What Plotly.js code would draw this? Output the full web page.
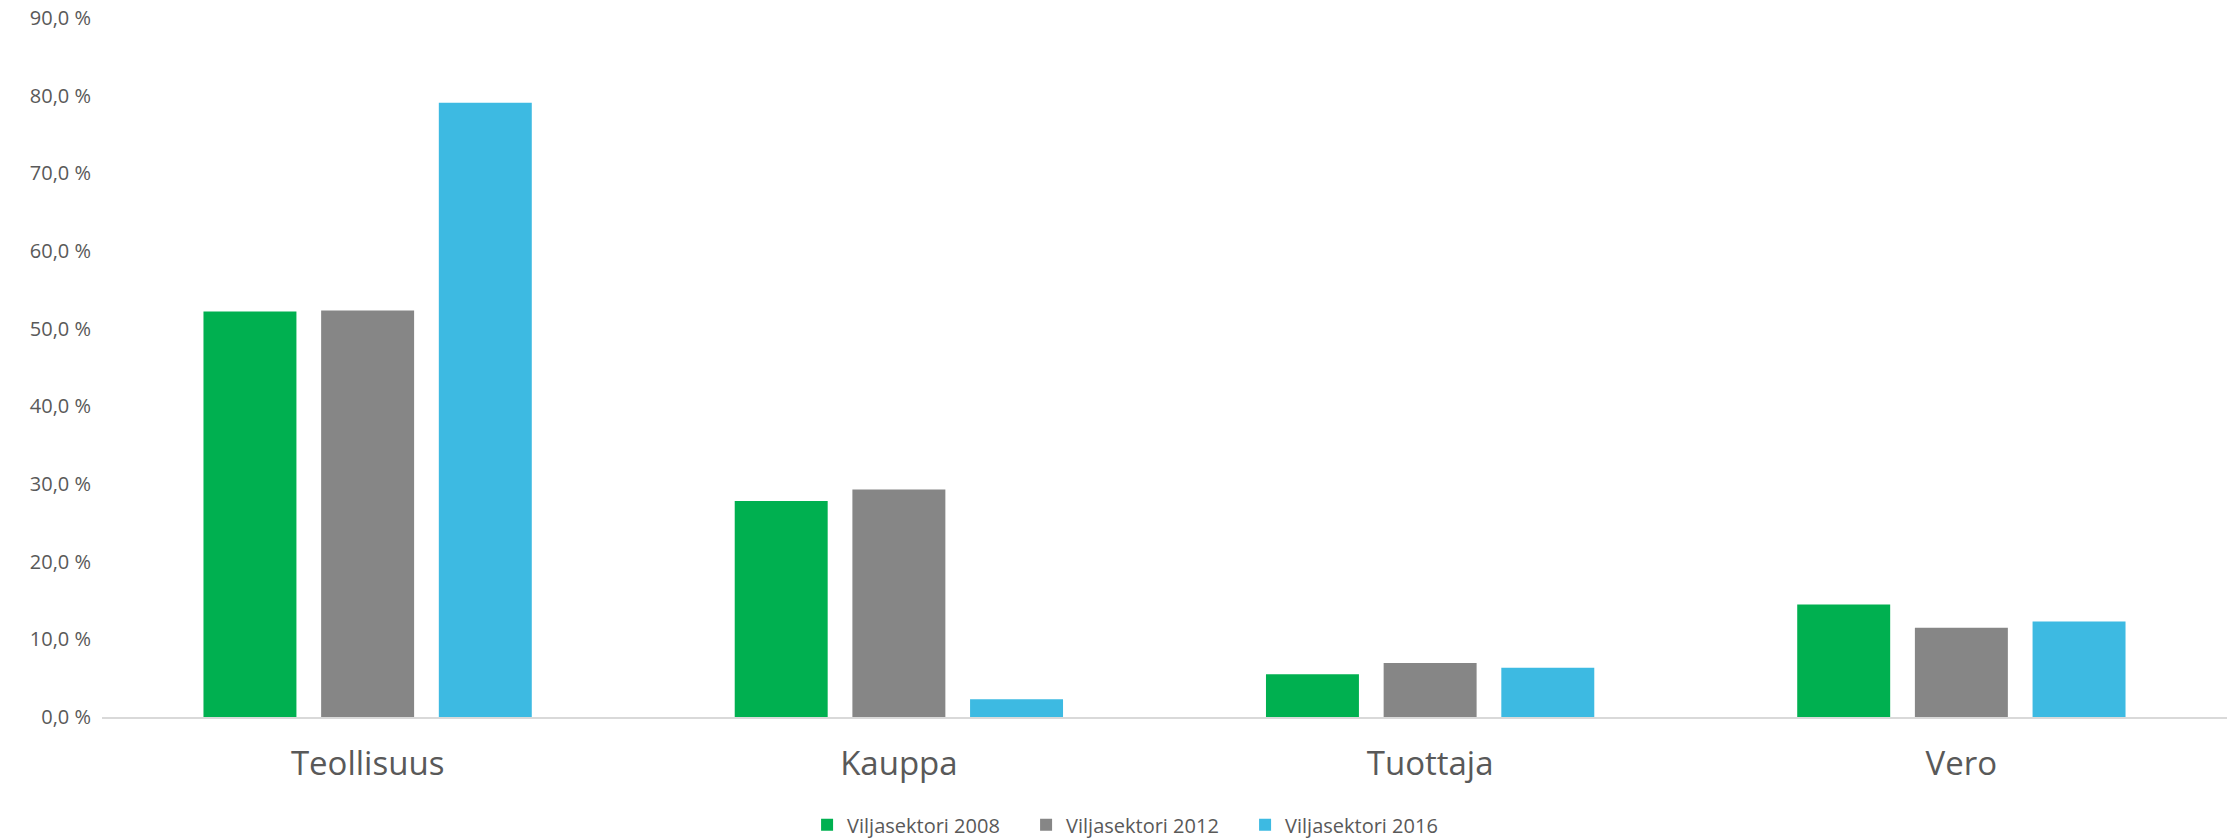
<!DOCTYPE html>
<html>
<head>
<meta charset="utf-8">
<script src="https://cdn.plot.ly/plotly-3.0.1.min.js"></script>
<style>
  html, body { margin: 0; padding: 0; background: #ffffff; }
  #chart { width: 2231px; height: 839px; }
</style>
</head>
<body>
<div id="chart"></div>
<script>
const categories = ["Teollisuus", "Kauppa", "Tuottaja", "Vero"];
const seriesNames = ["Viljasektori 2008", "Viljasektori 2012", "Viljasektori 2016"];
const values2008 = [52.2, 27.8, 5.5, 14.5];
const values2012 = [52.35, 29.3, 6.95, 11.5];
const values2016 = [79.1, 2.3, 6.35, 12.3];
const seriesColors = ["#00B050", "#868686", "#3DBAE2"];
const yTickVals = [0, 10, 20, 30, 40, 50, 60, 70, 80, 90];
const yTickText = ["0,0 %", "10,0 %", "20,0 %", "30,0 %", "40,0 %", "50,0 %", "60,0 %", "70,0 %", "80,0 %", "90,0 %"];

const allValues = [values2008, values2012, values2016];
const traces = allValues.map((vals, i) => ({
  type: "bar",
  name: seriesNames[i],
  x: categories,
  y: vals,
  marker: { color: seriesColors[i], line: { width: 0 } },
  hoverinfo: "skip"
}));

const layout = {
  width: 2231,
  height: 839,
  margin: { l: 102, r: 4, t: 18, b: 122, pad: 0 },
  paper_bgcolor: "#ffffff",
  plot_bgcolor: "#ffffff",
  barmode: "group",
  bargap: 0.3355,
  bargroupgap: 0.21,
  font: { family: "Open Sans, sans-serif", color: "#595959" },
  xaxis: {
    type: "category",
    showgrid: false,
    zeroline: false,
    showline: true,
    linecolor: "#D9D9D9",
    linewidth: 2,
    ticks: "",
    tickfont: { family: "Open Sans, sans-serif", size: 33, color: "#595959" },
    ticklabelstandoff: 16
  },
  yaxis: {
    range: [0, 90],
    showgrid: false,
    zeroline: false,
    showline: false,
    ticks: "",
    tickmode: "array",
    tickvals: yTickVals,
    ticktext: yTickText,
    tickfont: { family: "Open Sans, sans-serif", size: 20, color: "#595959" },
    ticklabelstandoff: 10
  },
  showlegend: true,
  legend: {
    orientation: "h",
    xref: "container",
    yref: "container",
    x: 0.509,
    xanchor: "center",
    y: 0.017,
    yanchor: "middle",
    entrywidth: 174,
    font: { family: "Open Sans, sans-serif", size: 20, color: "#595959" },
    itemclick: false,
    itemdoubleclick: false,
    traceorder: "normal"
  }
};

Plotly.newPlot("chart", traces, layout, { displayModeBar: false, staticPlot: true });
</script>
</body>
</html>
